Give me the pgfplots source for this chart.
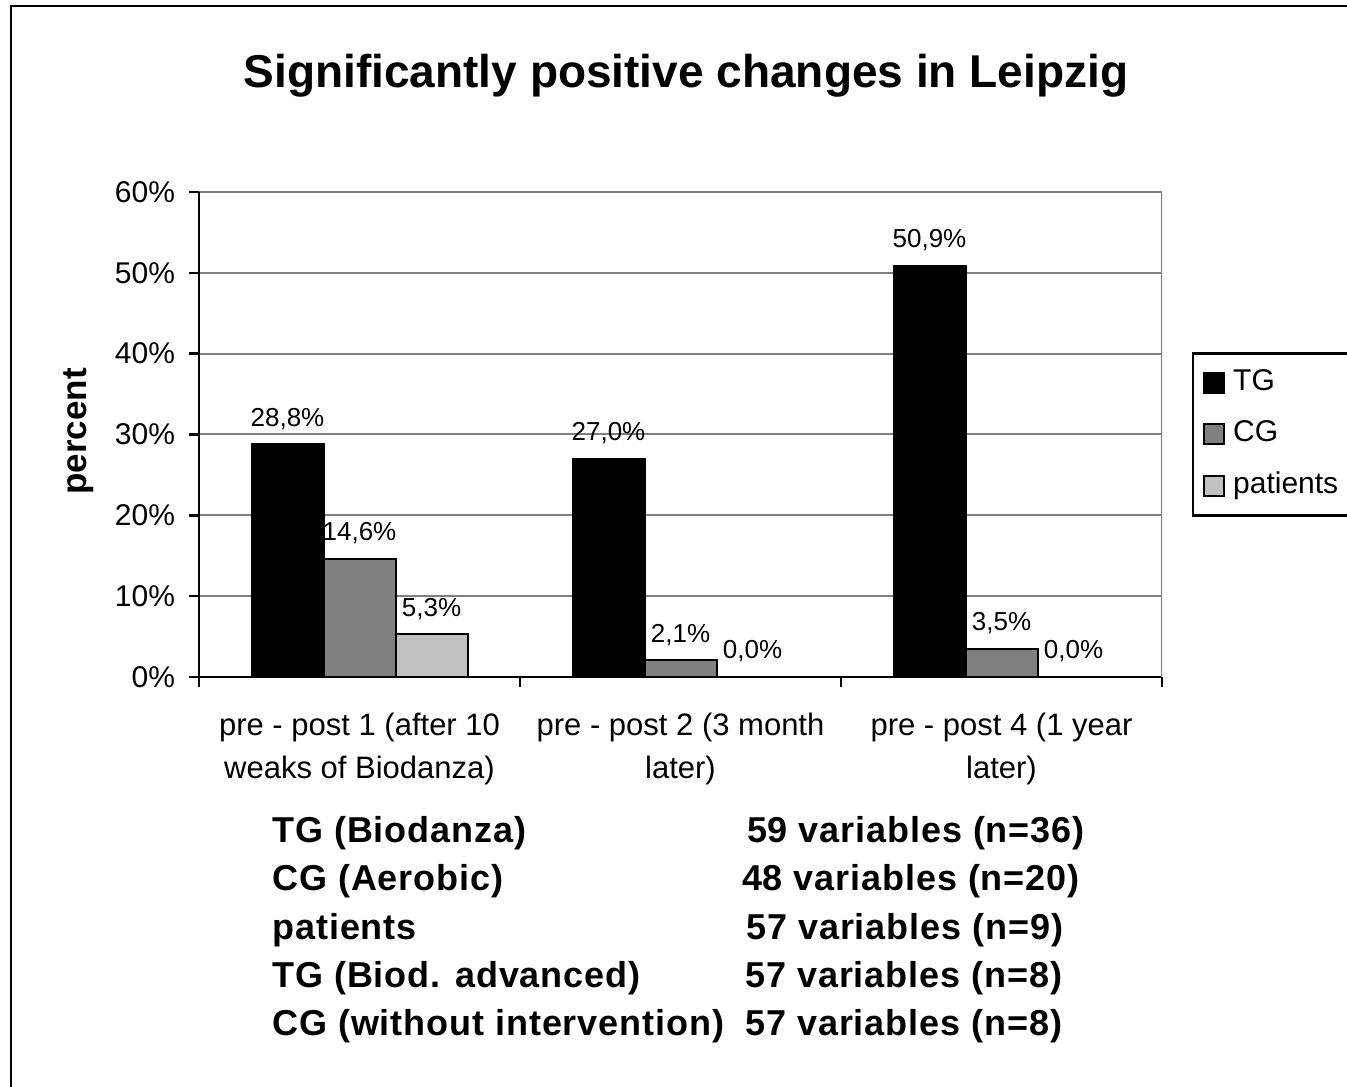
\documentclass[border=0pt]{standalone}
\usepackage{fontspec}
\setmainfont{Liberation Sans}
\usepackage{pgfplots}
\pgfplotsset{compat=1.18}
\definecolor{cgGray}{HTML}{808080}
\definecolor{patGray}{HTML}{C0C0C0}
\definecolor{gridGray}{HTML}{808080}
\pgfplotsset{sqlegend/.style={legend image code/.code={\draw[##1] (0pt,-5pt) rectangle (10pt,5pt);}}}
\begin{document}
\begin{tikzpicture}
\useasboundingbox (0,0) rectangle (673.5pt,543pt);
\draw[line width=1.2pt] (5.5pt,-20pt) -- (5.5pt,539.85pt) -- (700pt,539.85pt);
\node[anchor=base, font=\bfseries\fontsize{23}{27}\selectfont] at (343pt,499pt) {Significantly positive changes in Leipzig};
\node[rotate=90, anchor=base, font=\bfseries\fontsize{17.5}{20}\selectfont] at (43.35pt,327.25pt) {percent};
\begin{axis}[
  at={(99.5pt,204.5pt)}, anchor=south west,
  scale only axis, width=481.5pt, height=242.5pt,
  xmin=0, xmax=3, ymin=0, ymax=60,
  axis x line*=bottom, axis y line*=left,
  axis line style={line width=1.3pt, black},
  ybar=0pt, bar width=36pt,
  xtick={0.5,1.5,2.5},
  xticklabels={{pre - post 1 (after 10\\weaks of Biodanza)},{pre - post 2 (3 month\\later)},{pre - post 4 (1 year\\later)}},
  minor xtick={0,1,2,3},
  major x tick style={draw=none},
  minor x tick style={line width=1.3pt, black},
  ytick={0,10,20,30,40,50,60},
  yticklabel={\pgfmathprintnumber[assume math mode=true]{\tick}\%},
  ytick style={line width=1.3pt, black},
  tick align=outside,
  major tick length=5pt, minor tick length=5pt,
  ymajorgrids, grid style={gridGray, line width=1pt},
  xticklabel style={font=\fontsize{15.5}{21.5}\selectfont, align=center, yshift=-9.5pt},
  yticklabel style={font=\fontsize{15}{18}\selectfont, xshift=-3.5pt},
  nodes near coords={\pgfmathprintnumber[fixed,fixed zerofill,precision=1,use comma,assume math mode=true]{\pgfplotspointmeta}\%},
  every node near coord/.append style={font=\fontsize{13}{15}\selectfont, anchor=base, yshift=9pt, inner sep=0pt, black},
  legend entries={TG,CG,patients\hspace*{12pt}},
  legend style={at={(1.031,0.670)}, anchor=north west, draw=black, line width=1.3pt,
    font=\fontsize{15}{17}\selectfont, inner xsep=5pt, inner ysep=6pt, row sep=8.3pt,
    column sep=2pt, cells={anchor=west}, nodes={inner sep=2pt, text height=10.5pt, text depth=3pt}},
]
\addplot[fill=black, draw=black, line width=1pt, sqlegend] coordinates {(0.5,28.8) (1.5,27.0) (2.5,50.9)};
\addplot[fill=cgGray, draw=black, line width=1pt, sqlegend] coordinates {(0.5,14.6) (1.5,2.1) (2.5,3.5)};
\addplot[fill=patGray, draw=black, line width=1pt, sqlegend] coordinates {(0.5,5.3) (1.5,0.0) (2.5,0.0)};
\draw[gridGray, line width=1pt] (rel axis cs:1,0) -- (rel axis cs:1,1);
\end{axis}
\begin{scope}[every node/.style={anchor=base west, font=\bfseries\fontsize{18}{20}\selectfont\addfontfeature{LetterSpace=2.5}, inner sep=0pt}]
\node at (136pt,121.5pt) {TG (Biodanza)};
\node at (136pt,97.5pt) {CG (Aerobic)};
\node at (136pt,73.5pt) {patients};
\node at (136pt,49.5pt) {TG (Biod. advanced)};
\node at (136pt,25.5pt) {CG (without intervention)};
\node at (373.3pt,121.5pt) {59 variables (n=36)};
\node at (370.8pt,97.5pt) {48 variables (n=20)};
\node at (373pt,73.5pt) {57 variables (n=9)};
\node at (372.5pt,49.5pt) {57 variables (n=8)};
\node at (372.5pt,25.5pt) {57 variables (n=8)};
\end{scope}
\end{tikzpicture}
\end{document}
